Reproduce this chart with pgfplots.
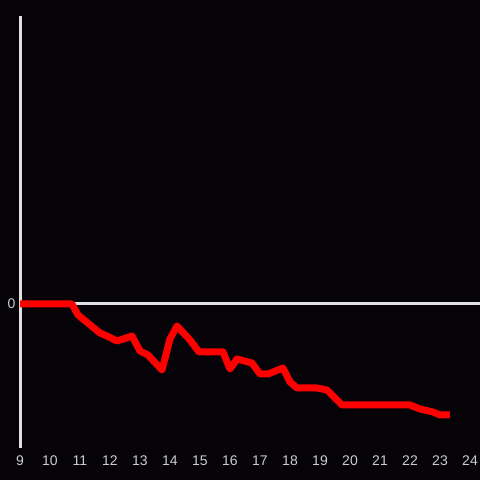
\documentclass[border=0pt]{standalone}
\usepackage{pgfplots}
\pgfplotsset{compat=1.18}
\usepackage{fontspec}
\setmainfont{Liberation Sans}
\definecolor{bgc}{HTML}{050307}
\definecolor{axc}{HTML}{E0E0E0}
\definecolor{lbc}{HTML}{CCCCCC}
\begin{document}
\begin{tikzpicture}[x=1pt,y=1pt]
\fill[bgc] (0,0) rectangle (480,480);
\begin{axis}[
  at={(20pt,32pt)}, anchor=south west,
  scale only axis, width=460pt, height=432pt,
  xmin=9, xmax=24.3333, ymin=-144, ymax=288,
  axis x line*=bottom, axis y line*=left,
  x axis line style={draw=none},
  y axis line style={draw=axc, line width=3pt, -},
  xtick={9,10,...,24}, ytick={0},
  major tick length=0pt,
  tick label style={font=\fontsize{14}{16}\selectfont, text=lbc},
  /pgf/number format/assume math mode=true,
  xticklabel style={anchor=center, yshift=-12.5pt},
  yticklabel style={anchor=east, xshift=-1pt},
  clip=false,
]
\addplot[axc, line width=3pt] coordinates {(9,0) (24.3333,0)};
\addplot[red, line width=7pt, line join=round] coordinates {
(9,0) (10.733,0) (10.933,-11) (11.667,-29) (11.9,-32) (12.233,-37)
(12.733,-32) (13.0,-47) (13.267,-51) (13.733,-66) (14.0,-35) (14.233,-22)
(14.667,-36) (14.967,-48) (15.767,-48) (16.0,-65) (16.233,-55) (16.733,-59)
(17.0,-70) (17.267,-70) (17.767,-64) (18.0,-78) (18.233,-84) (18.9,-84)
(19.233,-86) (19.733,-101) (22.0,-101) (22.333,-105) (22.767,-108)
(23.0,-111) (23.333,-111)
};
\end{axis}
\pgfresetboundingbox
\path (0,0) rectangle (480,480);
\end{tikzpicture}
\end{document}
